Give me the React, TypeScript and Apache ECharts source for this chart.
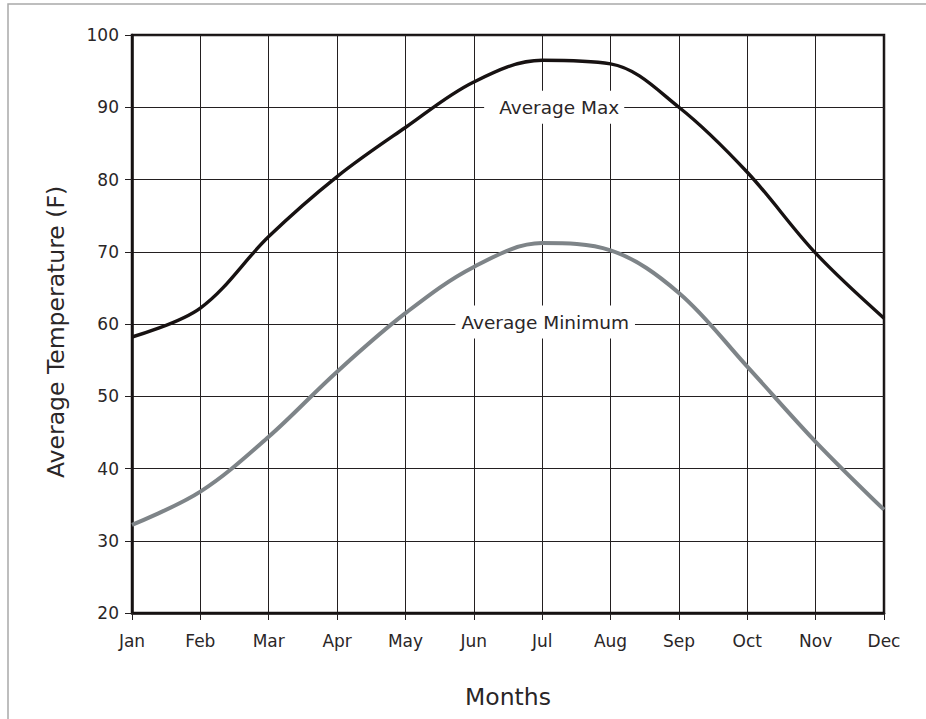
import React, { useEffect, useRef } from "react";
import * as echarts from "echarts";

const months = ["Jan", "Feb", "Mar", "Apr", "May", "Jun", "Jul", "Aug", "Sep", "Oct", "Nov", "Dec"];
const avgMax = [58.2, 62.2, 72.1, 80.4, 87.2, 93.5, 96.5, 96.0, 90.0, 81.0, 69.8, 60.8];
const avgMin = [32.2, 36.8, 44.4, 53.4, 61.5, 67.9, 71.2, 70.2, 64.3, 54.1, 43.7, 34.3];
const yTicks = { min: 20, max: 100, interval: 10 };
const labelMax = "Average Max";
const labelMin = "Average Minimum";
const xName = "Months";
const yName = "Average Temperature (F)";

const FONT = "DejaVu Sans";

export default function App() {
  const ref = useRef<HTMLDivElement>(null);
  useEffect(() => {
    if (!ref.current) return;
    const chart = echarts.init(ref.current, null, { renderer: "svg" });
    chart.setOption({
      animation: false,
      backgroundColor: "#ffffff",
      grid: {
        left: 132,
        right: 42,
        top: 35,
        bottom: 106,
        show: true,
        borderColor: "#161212",
        borderWidth: 2.5,
        backgroundColor: "transparent",
      },
      graphic: [
        {
          type: "rect",
          shape: { x: 8, y: 4, width: 1200, height: 1200 },
          style: { fill: "none", stroke: "#a9a9a9", lineWidth: 1.5 },
          silent: true,
          z: -10,
        },
        {
          type: "text",
          x: 56,
          y: 332,
          rotation: Math.PI / 2,
          style: {
            text: yName,
            fontFamily: FONT,
            fontSize: 23.5,
            fill: "#2a2627",
            align: "center",
            verticalAlign: "middle",
          },
        },
        {
          type: "text",
          x: 508,
          y: 697,
          style: {
            text: xName,
            fontFamily: FONT,
            fontSize: 23.5,
            fill: "#2a2627",
            align: "center",
            verticalAlign: "middle",
          },
        },
      ],
      xAxis: {
        type: "category",
        data: months,
        boundaryGap: false,
        axisLine: { show: true, lineStyle: { color: "#161212", width: 2.5 } },
        axisTick: { show: true, inside: false, length: 7, alignWithLabel: true, lineStyle: { color: "#231f20", width: 1 } },
        axisLabel: { color: "#2a2627", fontFamily: FONT, fontSize: 17, margin: 19 },
        splitLine: { show: true, lineStyle: { color: "#231f20", width: 1 } },
      },
      yAxis: {
        type: "value",
        min: yTicks.min,
        max: yTicks.max,
        interval: yTicks.interval,
        axisLine: { show: true, lineStyle: { color: "#161212", width: 2.5 } },
        axisTick: { show: true, inside: false, length: 7, lineStyle: { color: "#231f20", width: 1 } },
        axisLabel: { color: "#2a2627", fontFamily: FONT, fontSize: 17, margin: 13 },
        splitLine: { show: true, lineStyle: { color: "#231f20", width: 1 } },
      },
      series: [
        {
          type: "line",
          data: avgMin,
          smooth: 0.35,
          symbol: "none",
          lineStyle: { color: "#7e8488", width: 4 },
          z: 3,
          markPoint: {
            symbol: "circle",
            symbolSize: 0,
            data: [{ coord: ["Jul", 60], value: labelMin }],
            label: {
              show: true,
              position: "inside",
              offset: [3, -2],
              formatter: labelMin,
              fontFamily: FONT,
              fontSize: 18.5,
              color: "#2a2627",
              backgroundColor: "#ffffff",
              padding: [7, 6, 7, 6],
            },
          },
        },
        {
          type: "line",
          data: avgMax,
          smooth: 0.35,
          symbol: "none",
          lineStyle: { color: "#171212", width: 3.4 },
          z: 4,
          markPoint: {
            symbol: "circle",
            symbolSize: 0,
            data: [{ coord: ["Jul", 90], value: labelMax }],
            label: {
              show: true,
              position: "inside",
              offset: [12, 0],
              formatter: labelMax,
              fontFamily: FONT,
              fontSize: 18.5,
              color: "#2a2627",
              backgroundColor: "#ffffff",
              padding: [7, 5, 7, 15],
            },
          },
        },
      ],
    });
    return () => chart.dispose();
  }, []);
  return (
    <div
      ref={ref}
      style={{ position: "fixed", left: 0, top: 0, width: 926, height: 719 }}
    />
  );
}
